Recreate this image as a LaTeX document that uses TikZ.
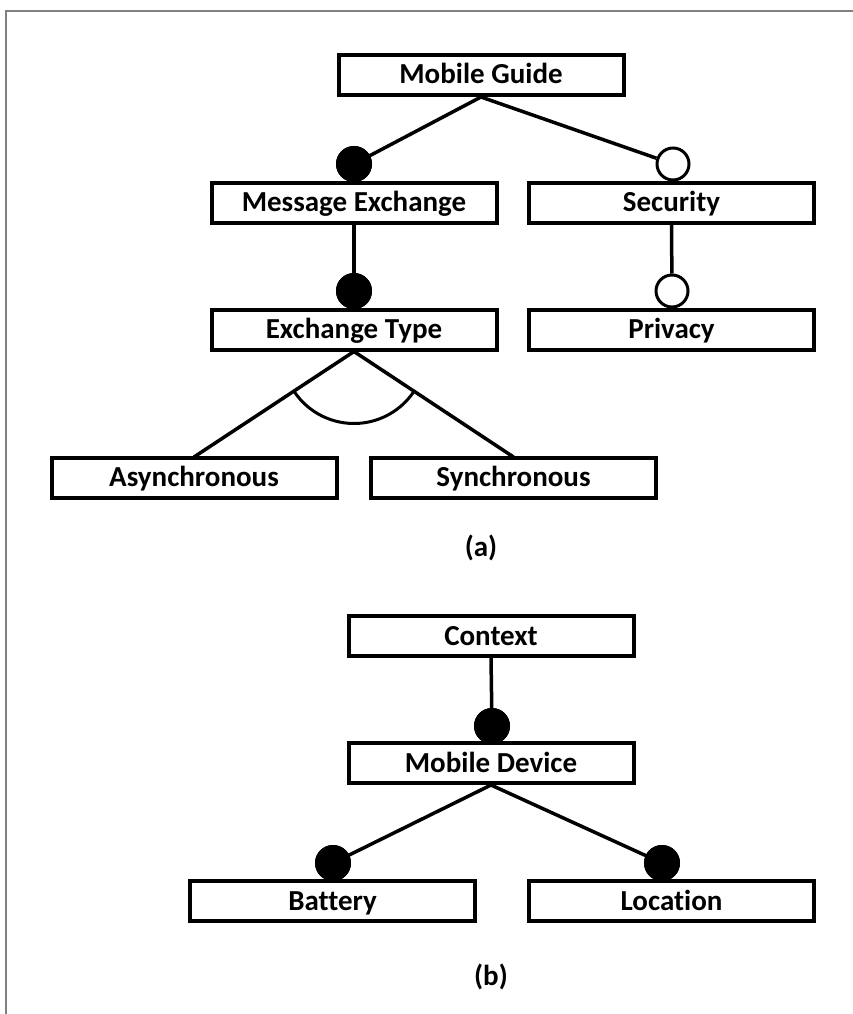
\documentclass[tikz,border=0pt]{standalone}
\usepackage{fontspec}
\setmainfont[Ligatures={NoCommon}]{Carlito}
\usetikzlibrary{calc}
\definecolor{framegray}{RGB}{128,128,128}
\begin{document}
\begin{tikzpicture}[x=1pt,y=-1pt,
  feature/.style={draw=black, line width=4pt, fill=white, minimum width=285pt,
    minimum height=40pt, inner sep=0pt, text height=21pt, text depth=3pt,
    font=\fontsize{29}{34}\selectfont\bfseries},
  link/.style={line width=3.5pt, black},
  mandatory/.style={circle, fill=black, draw=black, line width=2pt, minimum size=34pt, inner sep=0pt},
  optional/.style={circle, fill=white, draw=black, line width=3pt, minimum size=32pt, inner sep=0pt},
  caption/.style={font=\fontsize{29}{34}\selectfont\bfseries}]
\useasboundingbox (0,0) rectangle (853,1014);
% page frame
\draw[line width=2.5pt, framegray] (6,1014) -- (6,11) -- (853,11);

% ---- (a) Mobile Guide feature model
\node[feature] (mg)  at (481,75)    {Mobile Guide};
\node[feature] (me)  at (354,202.5) {Message Exchange};
\node[feature] (sec) at (671.5,202.5) {Security};
\node[feature] (et)  at (354,329.5) {Exchange Type};
\node[feature] (pri) at (671.5,329.5) {Privacy};
\node[feature] (asy) at (194,477.5) {Asynchronous};
\node[feature] (syn) at (513.5,477.5) {Synchronous};
\node[caption] (capa) at (481,548) {(a)};

\node[mandatory] (dme) at (354,164) {};
\node[optional]  (dsec) at (673,164) {};
\node[mandatory] (det) at (354,291) {};
\node[optional]  (dpri) at (672,291) {};

\draw[link] (mg.south) -- (dme.center);
\draw[link] (mg.south) -- (dsec);
\draw[link] (me.south) -- (det.center);
\draw[link] (sec.south) -- (dpri);
\node[mandatory] at (dme) {};
\node[mandatory] at (det) {};

% alternative group
\draw[link] (et.south) -- ($(asy.north)+(0,1.5)$);
\draw[link] (et.south) -- ($(syn.north)+(0,1.5)$);
\draw[line width=3pt] ($(et.south)+(146.2:72)$) arc[start angle=146.2, end angle=33.8, radius=72];

% ---- (b) Context feature model
\node[feature] (ctx) at (491,636)   {Context};
\node[feature] (md)  at (491,763)   {Mobile Device};
\node[feature] (bat) at (332.5,901) {Battery};
\node[feature] (loc) at (671.5,901) {Location};
\node[caption] (capb) at (491,977) {(b)};

\node[mandatory] (dmd)  at (492,726) {};
\node[mandatory] (dbat) at (333,863) {};
\node[mandatory] (dloc) at (662,863) {};

\draw[link] (ctx.south) -- (dmd.center);
\draw[link] (md.south) -- (dbat.center);
\draw[link] (md.south) -- (dloc.center);
\node[mandatory] at (dmd) {};
\node[mandatory] at (dbat) {};
\node[mandatory] at (dloc) {};
\end{tikzpicture}
\end{document}
